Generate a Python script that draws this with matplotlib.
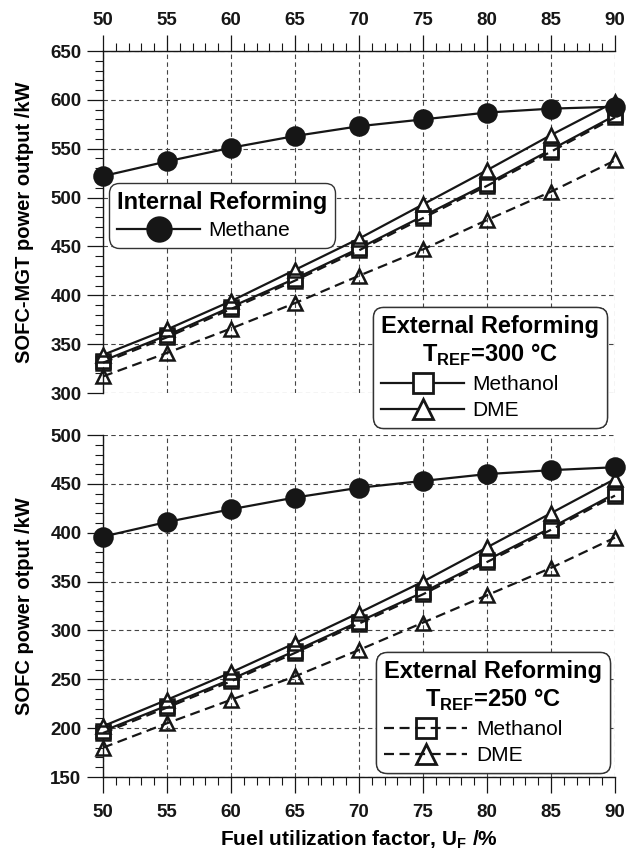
import matplotlib
matplotlib.use("Agg")
import matplotlib.pyplot as plt
from matplotlib.lines import Line2D
from matplotlib.ticker import MultipleLocator

plt.rcParams["font.family"] = ["Liberation Sans", "DejaVu Sans"]
plt.rcParams["font.weight"] = "bold"
plt.rcParams["axes.labelweight"] = "bold"
plt.rcParams["mathtext.fontset"] = "custom"
plt.rcParams["mathtext.rm"] = "Liberation Sans"
plt.rcParams["mathtext.bf"] = "Liberation Sans:bold"

uf = [50, 55, 60, 65, 70, 75, 80, 85, 90]

# SOFC-MGT power output (top panel), kW
mgt_methane = [522, 537, 551, 563, 573, 580, 587, 591, 593]
mgt_meoh_300 = [333, 359, 388, 417, 448, 481, 514, 549, 584]
mgt_dme_300 = [339, 365, 394, 426, 458, 493, 528, 564, 598]
mgt_meoh_250 = [331, 357, 386, 415, 446, 479, 512, 547, 582]
mgt_dme_250 = [317, 341, 366, 392, 420, 447, 477, 506, 538]

# SOFC power output (bottom panel), kW
sofc_methane = [396, 411, 424, 436, 446, 453, 460, 464, 467]
sofc_meoh_300 = [197, 223, 250, 279, 309, 339, 372, 405, 440]
sofc_dme_300 = [202, 229, 257, 287, 318, 350, 385, 420, 455]
sofc_meoh_250 = [195, 221, 248, 277, 307, 337, 370, 403, 438]
sofc_dme_250 = [180, 205, 229, 253, 280, 308, 336, 364, 395]

INK = "#161616"
W, H = 638, 859
DASH = (0, (4.5, 2.5))


def px_rect(x0, y0, x1, y1):
    return [x0 / W, 1 - y1 / H, (x1 - x0) / W, (y1 - y0) / H]


def draw_panel(ax, methane, meoh300, dme300, meoh250, dme250, ylim):
    style = dict(color=INK, lw=1.6, mec=INK, mew=1.8, clip_on=False)
    ax.plot(uf, meoh300, marker="s", ms=10, mfc="white", zorder=3, **style)
    ax.plot(uf, dme300, marker="^", ms=10, mfc="white", zorder=3, **style)
    ax.plot(uf, meoh250, ls=DASH, marker="s", ms=10, mfc="none", zorder=4, **style)
    ax.plot(uf, dme250, ls=DASH, marker="^", ms=10, mfc="none", zorder=4, **style)
    ax.plot(uf, methane, marker="o", ms=13, mfc=INK, zorder=4, **style)
    ax.set_xlim(50, 90)
    ax.set_ylim(*ylim)
    ax.xaxis.set_major_locator(MultipleLocator(5))
    ax.xaxis.set_minor_locator(MultipleLocator(1))
    ax.yaxis.set_major_locator(MultipleLocator(50))
    ax.yaxis.set_minor_locator(MultipleLocator(10))
    ax.grid(True, which="major", ls=(0, (4, 3)), lw=0.8, color="#444")
    ax.set_axisbelow(True)
    ax.tick_params(which="major", direction="out", length=11.5, width=0.9,
                   labelsize=13.5, pad=4, colors=INK)
    ax.tick_params(which="minor", direction="out", length=6, width=0.8, colors=INK)
    for side in ("left", "top", "bottom"):
        ax.spines[side].set_linewidth(1.0)
        ax.spines[side].set_color(INK)


def add_legend(ax, handles, labels, title, anchor, loc):
    leg = ax.legend(handles, labels, title=title, loc=loc, bbox_to_anchor=anchor,
                    bbox_transform=ax.figure.transFigure, borderaxespad=0,
                    prop={"size": 15, "weight": "normal"},
                    title_fontproperties={"size": 17, "weight": "bold"},
                    alignment="left", handlelength=4.0, handletextpad=0.4,
                    labelspacing=0.33, borderpad=0.38, fancybox=True,
                    framealpha=1, edgecolor="#333")
    leg.get_title().set_multialignment("center")
    leg.get_frame().set_linewidth(1.0)
    leg.get_frame().set_boxstyle("round", pad=0, rounding_size=0.5)
    ax.add_artist(leg)
    return leg


fig = plt.figure(figsize=(W / 100, H / 100), dpi=100)
ax_top = fig.add_axes(px_rect(103, 51, 615, 393))
ax_bot = fig.add_axes(px_rect(103, 435, 615, 777))

draw_panel(ax_top, mgt_methane, mgt_meoh_300, mgt_dme_300, mgt_meoh_250, mgt_dme_250, (300, 650))
draw_panel(ax_bot, sofc_methane, sofc_meoh_300, sofc_dme_300, sofc_meoh_250, sofc_dme_250, (150, 500))

ax_top.xaxis.tick_top()
ax_top.spines["bottom"].set_visible(False)
ax_top.spines["right"].set_visible(False)
ax_bot.spines["top"].set_visible(False)
ax_bot.spines["right"].set_visible(False)
ax_bot.tick_params(axis="x", which="major", pad=8)

ax_top.set_ylabel("SOFC-MGT power output /kW", fontsize=14.5, labelpad=12)
ax_bot.set_ylabel("SOFC power otput /kW", fontsize=14.5, labelpad=12)
ax_bot.set_xlabel(r"Fuel utilization factor, $\mathbf{U}_\mathbf{F}$ /%", fontsize=15, labelpad=5)

big = dict(color=INK, lw=1.6, mec=INK, mew=2.0)
add_legend(ax_top,
           [Line2D([], [], marker="o", ms=17, mfc=INK, **big)],
           ["Methane"], "Internal Reforming",
           (109 / W, 1 - 183 / H), "upper left")
add_legend(ax_top,
           [Line2D([], [], marker="s", ms=15, mfc="white", **big),
            Line2D([], [], marker="^", ms=15, mfc="white", **big)],
           ["Methanol", "DME"], "External Reforming\n$\\mathbf{T}_\\mathbf{REF}$=300 °C",
           (373 / W, 1 - 307 / H), "upper left")
add_legend(ax_bot,
           [Line2D([], [], ls=DASH, marker="s", ms=15, mfc="none", **big),
            Line2D([], [], ls=DASH, marker="^", ms=15, mfc="none", **big)],
           ["Methanol", "DME"], "External Reforming\n$\\mathbf{T}_\\mathbf{REF}$=250 °C",
           (610 / W, 1 - 773 / H), "lower right")

fig.savefig("out.png", dpi=100)
